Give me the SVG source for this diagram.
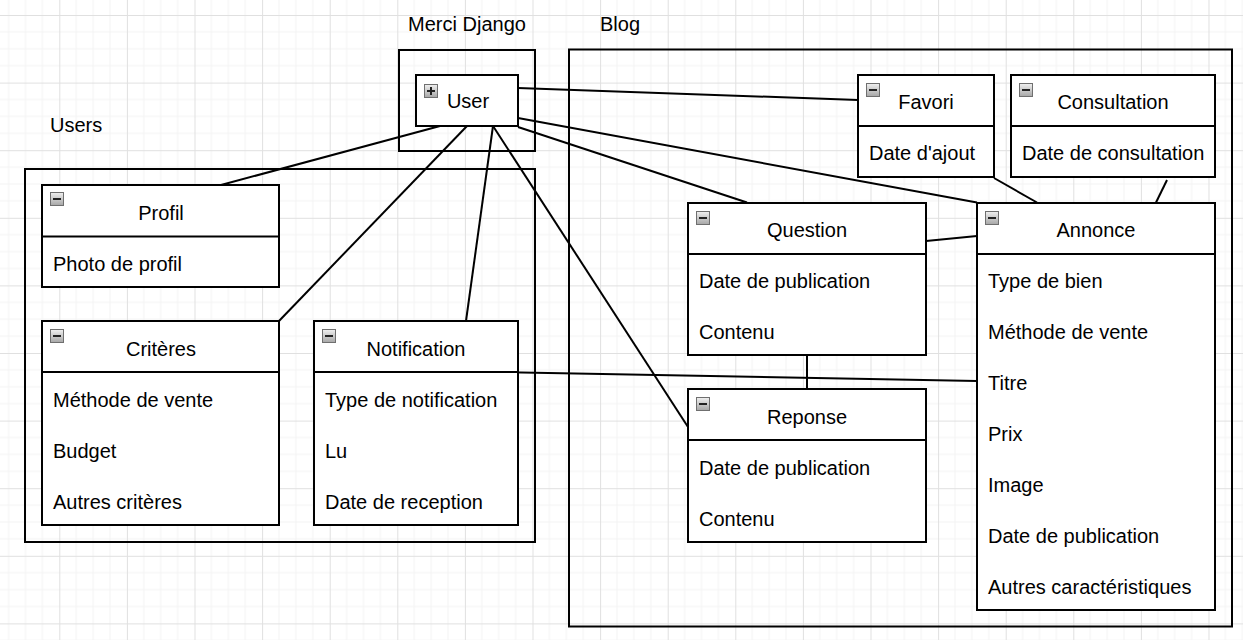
<svg xmlns="http://www.w3.org/2000/svg" width="1243" height="640" viewBox="0 0 1243 640">
<style>
.box{fill:#fff;stroke:#000;stroke-width:2}
.cont{fill:none;stroke:#000;stroke-width:2}
.div{stroke:#000;stroke-width:2}
.t{font-family:"Liberation Sans",Arial,sans-serif;font-size:20px;fill:#000}
.c{text-anchor:middle}
.edge{stroke:#000;stroke-width:2;fill:none}
.ic{fill:url(#icg);stroke:#6f6f6f;stroke-width:1}
.icm{stroke:#222;stroke-width:2}
</style>
<defs>
<linearGradient id="icg" x1="0" y1="0" x2="0" y2="1">
<stop offset="0" stop-color="#f0f0f0"/>
<stop offset="1" stop-color="#a6a6a6"/>
</linearGradient>
<pattern id="grid" patternUnits="userSpaceOnUse" x="-8.3" y="-52.6" width="67.6" height="67.6">
<path d="M16.9 0V67.6M33.8 0V67.6M50.7 0V67.6M0 16.9H67.6M0 33.8H67.6M0 50.7H67.6" stroke="#f3f3f3" stroke-width="1"/>
<path d="M0.5 0V67.6M0 0.5H67.6" stroke="#e0e0e0" stroke-width="1"/>
</pattern>
<g id="minus"><rect class="ic" x="0.5" y="0.5" width="13" height="13"/><line class="icm" x1="3" y1="7" x2="11" y2="7"/></g>
</defs>
<rect width="1243" height="640" fill="#fff"/>
<rect width="1243" height="640" fill="url(#grid)"/>

<g id="containers">
<rect class="cont" x="399" y="50" width="136" height="101"/>
<text class="t c" x="467" y="31">Merci Django</text>
<rect class="cont" x="25" y="169" width="510" height="373"/>
<text class="t" x="50" y="132">Users</text>
<rect class="cont" x="569" y="49.5" width="663" height="577"/>
<text class="t" x="600" y="31">Blog</text>
</g>

<g id="connectors">
<line class="edge" x1="440" y1="126" x2="221" y2="185"/>
<line class="edge" x1="467" y1="126" x2="279" y2="321"/>
<line class="edge" x1="493" y1="126" x2="466" y2="321"/>
<line class="edge" x1="493" y1="126" x2="688" y2="427"/>
<line class="edge" x1="518" y1="127" x2="747" y2="202.5"/>
<line class="edge" x1="518" y1="118" x2="977" y2="202.5"/>
<line class="edge" x1="518" y1="88" x2="858" y2="100"/>
<line class="edge" x1="994" y1="178" x2="1037" y2="202.5"/>
<line class="edge" x1="1167" y1="180" x2="1156" y2="202.5"/>
<line class="edge" x1="926" y1="241" x2="977" y2="236"/>
<line class="edge" x1="807" y1="355" x2="807" y2="389"/>
<line class="edge" x1="500" y1="372" x2="977" y2="381"/>
</g>

<g id="user">
<rect class="box" x="416" y="75" width="102" height="51"/>
<rect class="ic" x="424.5" y="84.5" width="13" height="13"/>
<line class="icm" x1="427" y1="91" x2="435" y2="91"/>
<line class="icm" x1="431" y1="87" x2="431" y2="95"/>
<text class="t c" x="468" y="108">User</text>
</g>

<g id="profil">
<rect class="box" x="42" y="185" width="237" height="102"/>
<line class="div" x1="42" y1="236.5" x2="279" y2="236.5"/>
<use href="#minus" x="50" y="192"/>
<text class="t c" x="161" y="220">Profil</text>
<text class="t" x="53" y="271">Photo de profil</text>
</g>

<g id="criteres">
<rect class="box" x="42" y="321" width="237" height="204"/>
<line class="div" x1="42" y1="372" x2="279" y2="372"/>
<use href="#minus" x="50" y="329"/>
<text class="t c" x="161" y="356">Critères</text>
<text class="t" x="53" y="407">Méthode de vente</text>
<text class="t" x="53" y="458">Budget</text>
<text class="t" x="53" y="509">Autres critères</text>
</g>

<g id="notification">
<rect class="box" x="314" y="321" width="204" height="204"/>
<line class="div" x1="314" y1="372" x2="518" y2="372"/>
<use href="#minus" x="322" y="329"/>
<text class="t c" x="416" y="356">Notification</text>
<text class="t" x="325" y="407">Type de notification</text>
<text class="t" x="325" y="458">Lu</text>
<text class="t" x="325" y="509">Date de reception</text>
</g>

<g id="favori">
<rect class="box" x="858" y="75" width="136" height="102"/>
<line class="div" x1="858" y1="126" x2="994" y2="126"/>
<use href="#minus" x="866" y="83"/>
<text class="t c" x="926" y="109">Favori</text>
<text class="t" x="869" y="160">Date d'ajout</text>
</g>

<g id="consultation">
<rect class="box" x="1011" y="75" width="204" height="102"/>
<line class="div" x1="1011" y1="126" x2="1215" y2="126"/>
<use href="#minus" x="1019" y="83"/>
<text class="t c" x="1113" y="109">Consultation</text>
<text class="t" x="1022" y="160">Date de consultation</text>
</g>

<g id="question">
<rect class="box" x="688" y="203" width="238" height="152"/>
<line class="div" x1="688" y1="254" x2="926" y2="254"/>
<use href="#minus" x="696" y="211"/>
<text class="t c" x="807" y="237">Question</text>
<text class="t" x="699" y="288">Date de publication</text>
<text class="t" x="699" y="339">Contenu</text>
</g>

<g id="reponse">
<rect class="box" x="688" y="389" width="238" height="153"/>
<line class="div" x1="688" y1="440" x2="926" y2="440"/>
<use href="#minus" x="696" y="397"/>
<text class="t c" x="807" y="424">Reponse</text>
<text class="t" x="699" y="475">Date de publication</text>
<text class="t" x="699" y="526">Contenu</text>
</g>

<g id="annonce">
<rect class="box" x="977" y="203" width="238" height="407"/>
<line class="div" x1="977" y1="254" x2="1215" y2="254"/>
<use href="#minus" x="985" y="211"/>
<text class="t c" x="1096" y="237">Annonce</text>
<text class="t" x="988" y="288">Type de bien</text>
<text class="t" x="988" y="339">Méthode de vente</text>
<text class="t" x="988" y="390">Titre</text>
<text class="t" x="988" y="441">Prix</text>
<text class="t" x="988" y="492">Image</text>
<text class="t" x="988" y="543">Date de publication</text>
<text class="t" x="988" y="594">Autres caractéristiques</text>
</g>
</svg>
